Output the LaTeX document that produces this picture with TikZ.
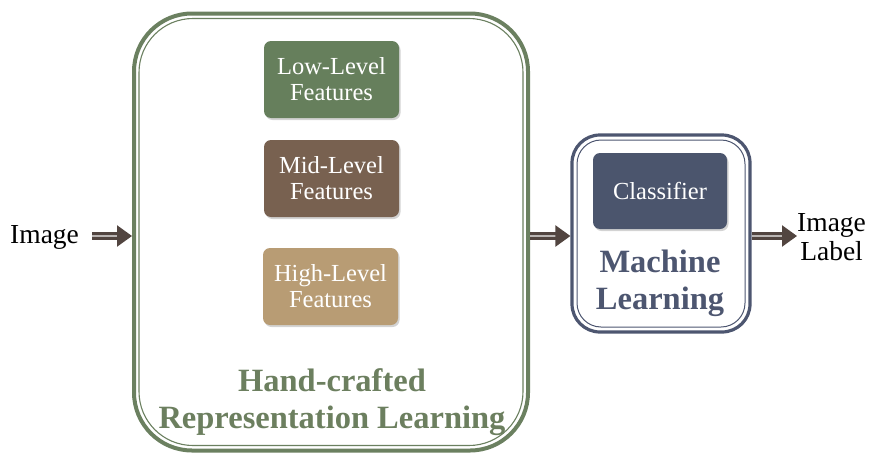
\documentclass[tikz,border=0pt]{standalone}
\usepackage{fontspec}
\setmainfont{Liberation Serif}
\usetikzlibrary{arrows.meta,shadows}
\definecolor{frameg}{HTML}{6B8060}
\definecolor{lowc}{HTML}{667F5C}
\definecolor{midc}{HTML}{786150}
\definecolor{highc}{HTML}{B89C74}
\definecolor{clsc}{HTML}{4B556D}
\definecolor{mlc}{HTML}{4D5670}
\definecolor{arrc}{HTML}{524540}
\definecolor{titg}{HTML}{6C7F5F}
\begin{document}
\begin{tikzpicture}[x=1pt,y=-1pt,
  feat/.style={rounded corners=7pt, minimum width=135pt, minimum height=77pt, inner sep=0pt,
    text=white, font=\fontsize{24.5}{26}\selectfont, align=center,
    drop shadow={shadow xshift=1.5pt, shadow yshift=-2pt, opacity=0.35}},
  flow/.style={draw=arrc, line width=2.4pt, double=arrc!40!white, double distance=2.4pt,
    -{Triangle[length=15pt,width=21pt,fill=arrc]}},
  lbl/.style={font=\fontsize{27.5}{29}\selectfont, align=center, inner sep=0pt},
  ttl/.style={font=\bfseries\fontsize{32.5}{37}\selectfont, align=center, inner sep=0pt}]
\useasboundingbox (0,0) rectangle (872,455);
% big box
\node[draw=frameg, line width=4pt, rounded corners=58pt, minimum width=394pt, minimum height=437pt] (hc) at (331,232) {};
\node[draw=frameg, line width=1.1pt, rounded corners=54pt, minimum width=384pt, minimum height=427pt] (hcin) at (331,232) {};
% features
\node[feat, fill=lowc] (low) at (331.5,79.5) {Low-Level\\Features};
\node[feat, fill=midc] (mid) at (331.5,178.5) {Mid-Level\\Features};
\node[feat, fill=highc] (high) at (330.5,286.5) {High-Level\\Features};
\node[ttl, text=titg] (hctitle) at (332,402) {Hand-crafted\\Representation Learning};
% ML box
\node[draw=mlc, line width=3.2pt, rounded corners=28pt, minimum width=178pt, minimum height=197pt] (ml) at (661,233.5) {};
\node[draw=mlc, line width=1pt, rounded corners=24pt, minimum width=168pt, minimum height=187pt] (mlin) at (661,233.5) {};
\node[feat, fill=clsc, minimum width=134pt, minimum height=76pt] (cls) at (660,191) {Classifier};
\node[ttl, text=mlc] (mltitle) at (660,283) {Machine\\Learning};
% labels
\node[lbl, anchor=west] (img) at (10,237) {Image};
\node[lbl, anchor=west] (out) at (797,237) {Image\\Label};
\coordinate (a0) at (92,236);
\coordinate (a1) at (hc.east |- a0);
% arrows
\draw[flow] (a0) -- (a0 -| hc.west);
\draw[flow] (a1) -- (a1 -| ml.west);
\draw[flow] (a1 -| ml.east) -- (a1 -| out.west);
\end{tikzpicture}
\end{document}
